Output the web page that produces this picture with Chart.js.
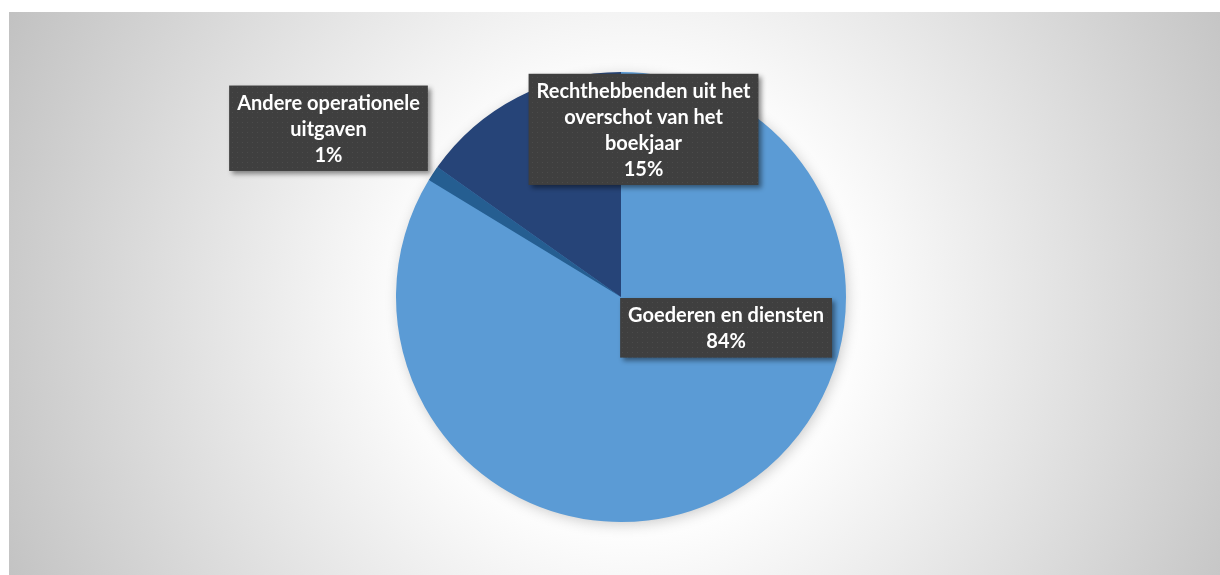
<!DOCTYPE html>
<html>
<head>
<meta charset="utf-8">
<script src="https://cdn.jsdelivr.net/npm/chart.js@4.4.1/dist/chart.umd.min.js"></script>
<style>
  html, body { margin: 0; padding: 0; background: #ffffff; }
  #wrap { width: 1220px; height: 575px; position: relative; }
</style>
</head>
<body>
<div id="wrap"><canvas id="uitgavenChart"></canvas></div>
<script>
// data
const categories = [
  'Goederen en diensten',
  'Andere operationele uitgaven',
  'Rechthebbenden uit het overschot van het boekjaar'
]
const shares = [83.7, 1.1, 15.2]
const labelLines = [
  ['Goederen en diensten'],
  ['Andere operationele', 'uitgaven'],
  ['Rechthebbenden uit het', 'overschot van het', 'boekjaar']
]
const sliceColors = ['#5B9BD5', '#255E91', '#264478']

const total = shares.reduce((a, b) => a + b, 0)
const percentLabels = shares.map(v => Math.round(v * 100 / total) + '%')

// achtergrond met radiaal verloop
const backgroundPlugin = {
  id: 'bgGradient',
  beforeDraw(chart) {
    const ctx = chart.ctx
    const w = chart.width, h = chart.height
    ctx.save()
    ctx.fillStyle = '#ffffff'
    ctx.fillRect(0, 0, w, h)
    const g = ctx.createRadialGradient(630, 310, 0, 630, 310, 700)
    g.addColorStop(0, '#ffffff')
    g.addColorStop(0.3, '#ffffff')
    g.addColorStop(1, '#c0c0c0')
    ctx.fillStyle = g
    ctx.fillRect(9, 12, w - 9, h - 12)
    ctx.restore()
  }
}

// schaduw onder de taart
const pieShadowPlugin = {
  id: 'pieShadow',
  beforeDatasetsDraw(chart) {
    const arc = chart.getDatasetMeta(0).data[0]
    if (!arc) return
    const ctx = chart.ctx
    ctx.save()
    ctx.shadowColor = 'rgba(0,0,0,0.22)'
    ctx.shadowBlur = 14
    ctx.shadowOffsetX = 2
    ctx.shadowOffsetY = 3
    ctx.fillStyle = sliceColors[0]
    ctx.beginPath()
    ctx.arc(arc.x, arc.y, arc.outerRadius - 1, 0, Math.PI * 2)
    ctx.fill()
    ctx.restore()
  }
}

// donker patroon voor de labels
function makePattern(ctx) {
  const c = document.createElement('canvas')
  c.width = 5
  c.height = 5
  const p = c.getContext('2d')
  p.fillStyle = '#3f3f3f'
  p.fillRect(0, 0, 5, 5)
  p.fillStyle = '#4b4b4b'
  p.fillRect(2, 2, 1, 1)
  return ctx.createPattern(c, 'repeat')
}

// labels in donkere kaders
const labelBoxPlugin = {
  id: 'labelBoxes',
  afterDatasetsDraw(chart, args, opts) {
    const ctx = chart.ctx
    const meta = chart.getDatasetMeta(0)
    const pattern = makePattern(ctx)
    const lineH = opts.lineHeight
    ctx.save()
    ctx.font = opts.font
    ctx.textAlign = 'center'
    ctx.textBaseline = 'middle'
    meta.data.forEach((arc, i) => {
      const lines = labelLines[i].concat([percentLabels[i]])
      const r = arc.outerRadius
      const cx = arc.x + opts.offsets[i][0] * r
      const cy = arc.y + opts.offsets[i][1] * r
      const tw = Math.max(...lines.map(l => ctx.measureText(l).width))
      const bw = tw + opts.padX * 2
      const bh = lines.length * lineH + opts.padY * 2
      const bx = cx - bw / 2
      const by = cy - bh / 2
      ctx.save()
      ctx.shadowColor = 'rgba(0,0,0,0.45)'
      ctx.shadowBlur = 5
      ctx.shadowOffsetX = 3
      ctx.shadowOffsetY = 3
      ctx.fillStyle = pattern
      ctx.fillRect(bx, by, bw, bh)
      ctx.restore()
      ctx.fillStyle = '#ffffff'
      lines.forEach((l, k) => {
        ctx.fillText(l, cx, by + opts.padY + lineH * (k + 0.5) + 1)
      })
    })
    ctx.restore()
  }
}

const data = {
  labels: categories,
  datasets: [{
    data: shares,
    backgroundColor: sliceColors,
    borderWidth: 0,
    hoverOffset: 0
  }]
}

const config = {
  type: 'pie',
  data: data,
  options: {
    responsive: true,
    maintainAspectRatio: false,
    animation: false,
    events: [],
    layout: {
      padding: { left: 396, right: 374, top: 72, bottom: 53 }
    },
    plugins: {
      legend: { display: false },
      tooltip: { enabled: false },
      labelBoxes: {
        font: 'bold 20px Lato',
        lineHeight: 25.8,
        padX: 8,
        padY: 4,
        offsets: [[0.467, 0.137], [-1.30, -0.75], [0.10, -0.745]]
      }
    }
  },
  plugins: [backgroundPlugin, pieShadowPlugin, labelBoxPlugin]
}

const uitgavenChart = new Chart(document.querySelector('#uitgavenChart'), config)
</script>
</body>
</html>
